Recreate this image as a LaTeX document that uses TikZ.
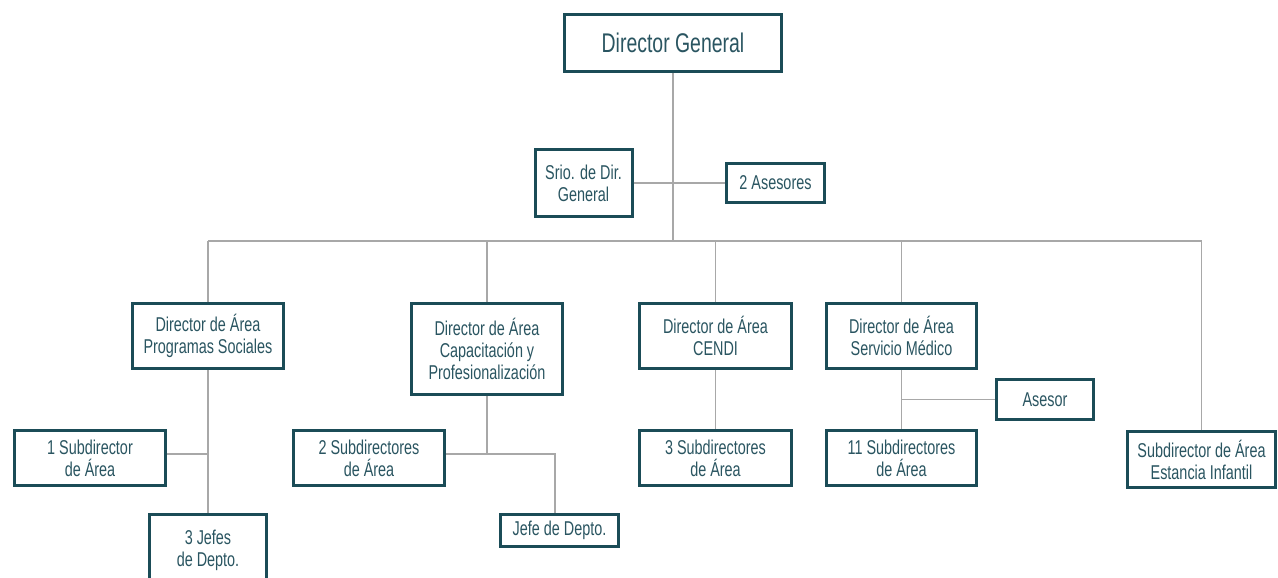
\documentclass[tikz,border=0pt]{standalone}
\usepackage{fontspec}
\setmainfont{Liberation Sans}[FakeStretch=0.72]
\definecolor{boxc}{HTML}{1B4C57}
\definecolor{txtc}{HTML}{2A5561}
\definecolor{linec}{HTML}{A8A8A8}
\tikzset{
  orgbox/.style={draw=boxc, line width=3pt, fill=white, text=txtc, align=center,
    inner sep=0pt, font=\fontsize{20}{22}\selectfont},
  conn/.style={draw=linec, line width=1.1pt},
}
\begin{document}
\begin{tikzpicture}[x=1pt,y=-1pt]
\clip (0,0) rectangle (1278,578);
\fill[white] (0,0) rectangle (1278,578);
% nodes
\node[orgbox, minimum width=217pt, minimum height=57pt, font=\fontsize{27}{30}\selectfont] (dg) at (673,43) {Director General};
\node[orgbox, minimum width=97pt, minimum height=67pt] (srio) at (583.5,183) {Srio. de Dir.\\General};
\node[orgbox, minimum width=98pt, minimum height=39pt] (ases2) at (775.5,183) {2 Asesores};
\node[orgbox, minimum width=151pt, minimum height=65pt] (prog) at (208,336) {Director de Área\\Programas Sociales};
\node[orgbox, minimum width=151pt, minimum height=91pt] (cap) at (487,349) {Director de Área\\Capacitación y\\Profesionalización};
\node[orgbox, minimum width=152pt, minimum height=65pt] (cendi) at (715.5,336) {Director de Área\\CENDI};
\node[orgbox, minimum width=150pt, minimum height=65pt] (serv) at (901.5,336) {Director de Área\\Servicio Médico};
\node[orgbox, minimum width=151pt, minimum height=55pt] (sub1) at (90,458) {1 Subdirector\\de Área};
\node[orgbox, minimum width=117pt, minimum height=72pt] (jefes3) at (208,550) {3 Jefes\\de Depto.};
\node[orgbox, minimum width=151pt, minimum height=55pt] (sub2) at (369,458) {2 Subdirectores\\de Área};
\node[orgbox, minimum width=118pt, minimum height=32pt] (jefe) at (559.5,530.5) {Jefe de Depto.};
\node[orgbox, minimum width=152pt, minimum height=55pt] (sub3) at (715.5,458) {3 Subdirectores\\de Área};
\node[orgbox, minimum width=150pt, minimum height=55pt] (sub11) at (901.5,458) {11 Subdirectores\\de Área};
\node[orgbox, minimum width=97pt, minimum height=40pt] (asesor) at (1045,399.5) {Asesor};
\node[orgbox, minimum width=148pt, minimum height=56pt] (est) at (1201.5,459.5) {Subdirector de Área\\Estancia Infantil};
% junctions
\coordinate (dgbus) at (673,241);
\coordinate (pj) at (208,454);
\coordinate (cj) at (487,454);
\coordinate (jj) at (555,454);
\coordinate (jd) at (555,513);
\coordinate (sj) at (901.5,399.5);
% connectors
\draw[conn] (dg.south) -- (dgbus);
\draw[conn] (srio.east) -- (ases2.west);
\draw[conn] (prog.north |- dgbus) -- (est.north |- dgbus);
\draw[conn] (prog.north) -- (prog.north |- dgbus);
\draw[conn] (cap.north) -- (cap.north |- dgbus);
\draw[conn] (cendi.north) -- (cendi.north |- dgbus);
\draw[conn] (serv.north) -- (serv.north |- dgbus);
\draw[conn] (est.north) -- (est.north |- dgbus);
\draw[conn] (prog.south) -- (jefes3.north);
\draw[conn] (sub1.east |- pj) -- (pj);
\draw[conn] (cap.south) -- (cj);
\draw[conn] (sub2.east |- cj) -- (jj) -- (jd);
\draw[conn] (cendi.south) -- (sub3.north);
\draw[conn] (serv.south) -- (sub11.north);
\draw[conn] (asesor.west) -- (sj);
\end{tikzpicture}
\end{document}
